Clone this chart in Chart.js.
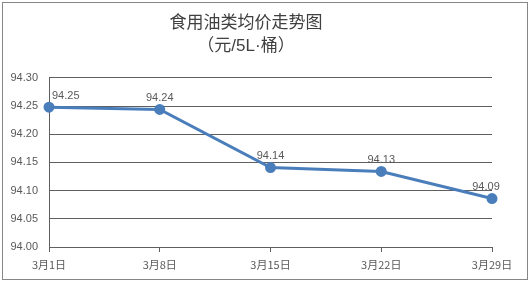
<!DOCTYPE html>
<html>
<head>
<meta charset="utf-8">
<script src="https://cdn.jsdelivr.net/npm/chart.js@4/dist/chart.umd.min.js"></script>
<style>
  html, body { margin: 0; padding: 0; background: #fff; }
  #wrap { position: relative; width: 530px; height: 283px; }
  #frame { position: absolute; left: 2px; top: 2px; width: 524px; height: 276px; border: 1px solid #868686; pointer-events: none; }
</style>
</head>
<body>
<div id="wrap">
  <canvas id="lineChart" width="530" height="283"></canvas>
  <div id="frame"></div>
</div>
<script>
const dates = ['3月1日', '3月8日', '3月15日', '3月22日', '3月29日'];
const prices = [94.248, 94.244, 94.141, 94.134, 94.086];
const yTicks = [94.00, 94.05, 94.10, 94.15, 94.20, 94.25, 94.30];

const textColor = '#595959';
const gridColor = '#5f5f5f';

// draws the value labels above each point
const valueLabels = {
    id: 'valueLabels',
    afterDatasetsDraw(chart) {
        const ctx = chart.ctx;
        const meta = chart.getDatasetMeta(0);
        ctx.save();
        ctx.font = '11px "Liberation Sans", Arial, sans-serif';
        ctx.fillStyle = textColor;
        ctx.textBaseline = 'bottom';
        meta.data.forEach((pt, i) => {
            const txt = (Math.round(prices[i] * 100) / 100).toFixed(2);
            let x = pt.x;
            if (i === 0) { ctx.textAlign = 'left'; x = pt.x + 3; }
            else if (i === meta.data.length - 1) { ctx.textAlign = 'center'; x = pt.x - 6; }
            else { ctx.textAlign = 'center'; }
            ctx.fillText(txt, x, pt.y - 6);
        });
        ctx.restore();
    }
};

const ctx = document.getElementById('lineChart').getContext('2d');

const lineChart = new Chart(ctx, {
    type: 'line',
    data: {
        labels: dates,
        datasets: [{
            label: '均价',
            data: prices,
            borderColor: '#4A7EBB',
            backgroundColor: '#4A7EBB',
            borderWidth: 3,
            pointRadius: 4,
            pointHoverRadius: 4,
            tension: 0
        }]
    },
    options: {
        responsive: false,
        animation: false,
        layout: { padding: { left: 0, right: 38, top: 0, bottom: 0 } },
        plugins: {
            legend: { display: false },
            tooltip: { enabled: false },
            title: {
                display: true,
                text: ['食用油类均价走势图', '（元/5L·桶）'],
                color: '#404040',
                font: { family: '"Liberation Sans", "Noto Sans CJK SC", sans-serif', size: 17, weight: 'normal', lineHeight: 1.35 },
                padding: { top: 12, bottom: 20 }
            }
        },
        scales: {
            x: {
                offset: false,
                grid: { drawOnChartArea: false, drawTicks: true, tickLength: 5, color: gridColor },
                border: { display: true, color: gridColor, width: 1 },
                ticks: {
                    color: textColor,
                    padding: 6,
                    maxRotation: 0,
                    font: { family: '"Noto Sans CJK SC", "Liberation Sans", sans-serif', size: 11 }
                },
                afterFit(scale) { scale.height = 36; }
            },
            y: {
                min: 94.00,
                max: 94.30,
                afterBuildTicks(scale) { scale.ticks = yTicks.map(v => ({ value: v })); },
                grid: { color: gridColor, drawTicks: false },
                border: { display: true, color: gridColor, width: 1 },
                ticks: {
                    color: textColor,
                    padding: 11,
                    font: { family: '"Liberation Sans", Arial, sans-serif', size: 11 },
                    callback: v => Number(v).toFixed(2)
                },
                afterFit(scale) { scale.width = 49; }
            }
        }
    },
    plugins: [valueLabels]
});
</script>
</body>
</html>
